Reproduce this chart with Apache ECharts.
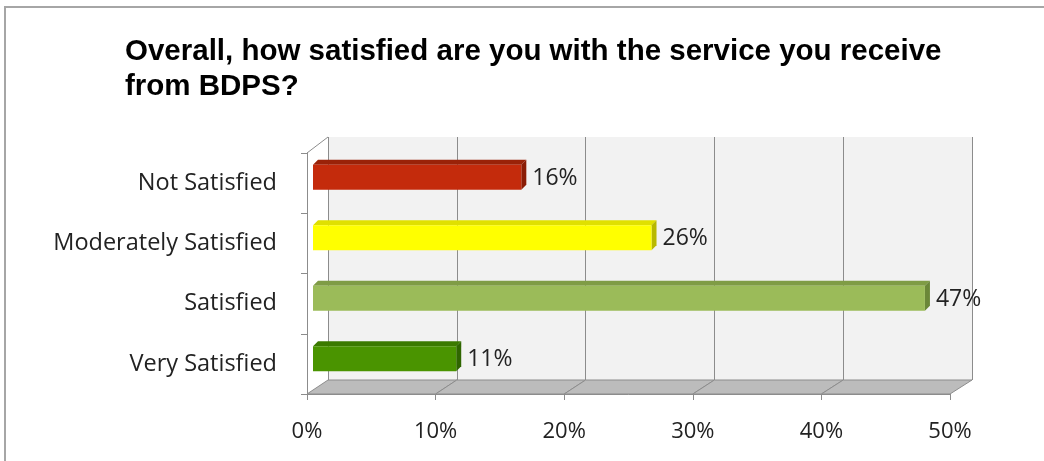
<!DOCTYPE html>
<html>
<head>
<meta charset="utf-8">
<script src="https://cdn.jsdelivr.net/npm/echarts@6/dist/echarts.min.js"></script>
<style>
  html, body { margin: 0; background: #fff; }
  #chart { width: 1044px; height: 461px; }
</style>
</head>
<body>
<div id="chart"></div>
<script>
// data
const categories = ['Not Satisfied', 'Moderately Satisfied', 'Satisfied', 'Very Satisfied'];
const percentValues = [16, 26, 47, 11];
const xTicks = [0, 10, 20, 30, 40, 50];

// colours of the three faces of each bar
const barFront = ['#c42b0c', '#ffff00', '#9bbb59', '#4a9400'];
const barTop = ['#9a2208', '#e0e000', '#7f9c45', '#3b7a00'];
const barSide = ['#8a1c06', '#b8b800', '#6b8738', '#2f6600'];

// layout of the fake 3d box (back wall, front edge, bar plane)
const W = 1044, H = 461;
const back = { left: 328, top: 137, right: W - 972, bottom: H - 380 };
const front = { left: 307, top: 153, right: W - 950, bottom: H - 394 };
const barPlane = { left: 313, top: 147, right: W - 964, bottom: H - 389 };
const DEPTH = 5;
const labelFont = 'Open Sans';
const xMax = xTicks[xTicks.length - 1];

function backX(v) {
  return back.left + v / xMax * (W - back.left - back.right);
}

const chart = echarts.init(document.getElementById('chart'));

const option = {
  animation: false,
  title: {
    text: 'Overall, how satisfied are you with the service you receive\nfrom BDPS?',
    left: 120,
    top: 29,
    textStyle: {
      fontFamily: 'Liberation Sans',
      fontWeight: 'bold',
      fontSize: 29.5,
      lineHeight: 35,
      color: '#000'
    }
  },
  graphic: [
    {
      type: 'rect',
      silent: true,
      shape: { x: 5, y: 7, width: 1200, height: 600 },
      style: { fill: 'none', stroke: '#a6a6a6', lineWidth: 2 }
    }
  ],
  grid: [
    Object.assign({ show: true, backgroundColor: '#f2f2f2', borderWidth: 0 }, back),
    Object.assign({}, front),
    Object.assign({}, barPlane)
  ],
  xAxis: [
    {
      gridIndex: 0, type: 'value', min: 0, max: xMax, interval: 10,
      axisLabel: { show: false }, axisLine: { show: false }, axisTick: { show: false },
      splitLine: { show: true, lineStyle: { color: '#8c8c8c', width: 1 } }
    },
    {
      gridIndex: 1, type: 'value', min: 0, max: xMax, interval: 10,
      axisLabel: {
        formatter: '{value}%', fontFamily: labelFont, fontSize: 22,
        color: '#222', margin: 27
      },
      axisLine: { show: true, lineStyle: { color: '#8c8c8c' } },
      axisTick: { show: true, length: 6, lineStyle: { color: '#8c8c8c' } },
      splitLine: { show: false }
    },
    { gridIndex: 2, type: 'value', min: 0, max: xMax, show: false }
  ],
  yAxis: [
    { gridIndex: 0, type: 'category', data: categories, inverse: true, show: false },
    {
      gridIndex: 1, type: 'category', data: categories, inverse: true,
      axisLine: { show: true, lineStyle: { color: '#8c8c8c' } },
      axisTick: { show: true, length: 6, lineStyle: { color: '#8c8c8c' } },
      axisLabel: { fontFamily: labelFont, fontSize: 23.5, color: '#222', margin: 30 }
    },
    { gridIndex: 2, type: 'category', data: categories, inverse: true, show: false }
  ],
  series: [
    {
      // floor of the box, one slab per tick interval
      type: 'custom',
      xAxisIndex: 1, yAxisIndex: 1,
      silent: true,
      z: 1,
      data: xTicks.slice(0, -1).map(v => [v, 0]),
      renderItem: function (params, api) {
        const v = api.value(0);
        const cs = params.coordSys;
        const yF = cs.y + cs.height;
        const yB = H - back.bottom;
        const x0 = api.coord([v, 0])[0];
        const x1 = api.coord([v + 10, 0])[0];
        const children = [{
          type: 'polygon',
          shape: { points: [[x0, yF], [x1, yF], [backX(v + 10), yB], [backX(v), yB]] },
          style: { fill: '#bcbcbc', stroke: '#8c8c8c', lineWidth: 1 }
        }];
        if (v === 0) {
          children.push({
            type: 'line',
            shape: { x1: cs.x, y1: cs.y, x2: back.left, y2: back.top },
            style: { stroke: '#8c8c8c', lineWidth: 1 }
          });
        }
        return { type: 'group', children: children };
      }
    },
    {
      type: 'custom',
      xAxisIndex: 2, yAxisIndex: 2,
      z: 3,
      data: percentValues.map((v, i) => [v, i]),
      renderItem: function (params, api) {
        const val = api.value(0);
        const idx = api.value(1);
        const p = api.coord([val, idx]);
        const p0 = api.coord([0, idx]);
        const h = api.size([0, 1])[1] * 0.415;
        const t = p[1] - h / 2, b = p[1] + h / 2, d = DEPTH;
        const i = params.dataIndex;
        return {
          type: 'group',
          children: [
            {
              type: 'polygon',
              shape: { points: [[p0[0], t], [p0[0] + d, t - d], [p[0] + d, t - d], [p[0], t]] },
              style: { fill: barTop[i] }
            },
            {
              type: 'polygon',
              shape: { points: [[p[0], t], [p[0] + d, t - d], [p[0] + d, b - d], [p[0], b]] },
              style: { fill: barSide[i] }
            },
            {
              type: 'rect',
              shape: { x: p0[0], y: t, width: p[0] - p0[0], height: h },
              style: { fill: barFront[i] }
            },
            {
              type: 'text',
              style: {
                text: val + '%', x: p[0] + d + 6, y: p[1] + 1,
                verticalAlign: 'middle', align: 'left',
                fontFamily: labelFont, fontSize: 23, fill: '#222'
              }
            }
          ]
        };
      }
    }
  ]
};

chart.setOption(option);
</script>
</body>
</html>
